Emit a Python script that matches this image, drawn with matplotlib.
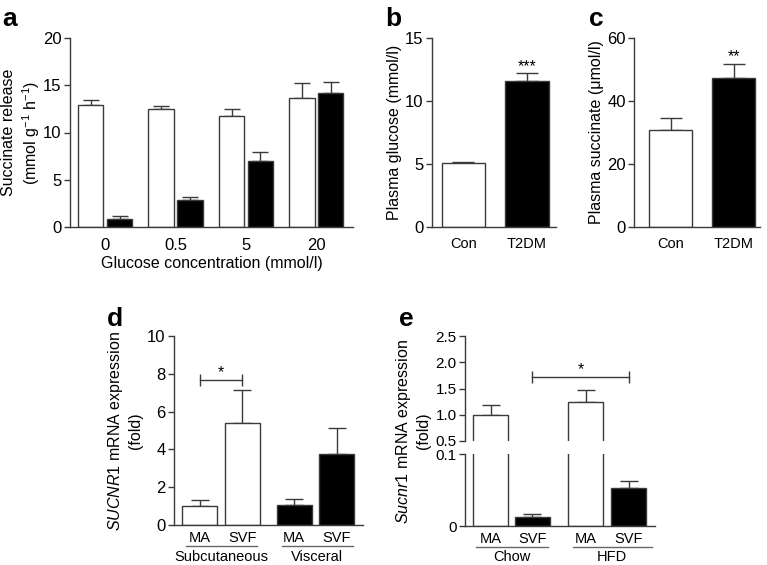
import numpy as np
import matplotlib
matplotlib.use('Agg')
import matplotlib.pyplot as plt
import matplotlib.transforms as mtrans

plt.rcParams['font.family'] = ['Liberation Sans', 'DejaVu Sans']
plt.rcParams['font.size'] = 11.5
plt.rcParams['mathtext.fontset'] = 'custom'
plt.rcParams['mathtext.rm'] = 'Liberation Sans'
plt.rcParams['mathtext.it'] = 'Liberation Sans:italic'

# Panel a: succinate release vs glucose concentration
a_groups = ['0', '0.5', '5', '20']
a_white = [12.9, 12.5, 11.7, 13.6]
a_white_err = [0.5, 0.35, 0.8, 1.6]
a_black = [0.8, 2.85, 7.0, 14.2]
a_black_err = [0.4, 0.3, 0.9, 1.1]

# Panel b / c: plasma glucose and succinate
bc_groups = ['Con', 'T2DM']
b_vals = [5.1, 11.6]
b_err = [0.07, 0.6]
c_vals = [30.8, 47.3]
c_err = [3.8, 4.4]

# Panel d: SUCNR1 expression, human
d_labels = ['MA', 'SVF', 'MA', 'SVF']
d_groups = ['Subcutaneous', 'Visceral']
d_vals = [1.0, 5.4, 1.05, 3.75]
d_err = [0.3, 1.75, 0.3, 1.4]

# Panel e: Sucnr1 expression, mouse
e_labels = ['MA', 'SVF', 'MA', 'SVF']
e_groups = ['Chow', 'HFD']
e_vals = [1.0, 0.013, 1.24, 0.053]
e_err = [0.18, 0.003, 0.23, 0.009]

W, H = 767, 565
EC = '#3a3a3a'
TICK_FS = 12
CAT_FS = 10.5
GRP_FS = 10.5
fig = plt.figure(figsize=(W / 100, H / 100), dpi=100)


def px_axes(l, r, t, b):
    return fig.add_axes([l / W, 1 - b / H, (r - l) / W, (b - t) / H])


def style(ax, xfs=CAT_FS, yfs=TICK_FS):
    for s in ['top', 'right']:
        ax.spines[s].set_visible(False)
    for s in ['left', 'bottom']:
        ax.spines[s].set_color(EC)
        ax.spines[s].set_linewidth(1.0)
    ax.tick_params(axis='y', length=4, width=1, color=EC, pad=2, labelsize=yfs)
    ax.tick_params(axis='x', length=0, labelsize=xfs)


def bars(ax, x, vals, err, colors, width, cap):
    ax.bar(x, vals, width, color=colors, edgecolor=EC, linewidth=1.0, zorder=2)
    ax.errorbar(x, vals, yerr=[np.zeros(len(vals)), err], fmt='none',
                ecolor=EC, elinewidth=1.0, capsize=cap, capthick=1.0, zorder=1)


def star(ax, x, y, s):
    ax.annotate(s, xy=(x, y), xytext=(0, -6.5), textcoords='offset points',
                ha='center', va='baseline', fontsize=11.5)


def bracket(ax, x1, x2, y):
    ax.plot([x1, x2], [y, y], color=EC, lw=1.0, marker='|', markersize=8,
            markeredgewidth=1.0, clip_on=False)


def group_lines(ax, spans, names, ly, ty):
    tr = mtrans.blended_transform_factory(ax.transData, ax.transAxes)
    for (x1, x2), n in zip(spans, names):
        ax.plot([x1, x2], [ly, ly], color='#666666', lw=1.0, transform=tr, clip_on=False)
        ax.text((x1 + x2) / 2, ty, n, transform=tr, ha='center', va='center', fontsize=GRP_FS)


# ---- a ----
ax = px_axes(70, 353, 38, 227)
style(ax, xfs=TICK_FS)
xa = np.arange(len(a_groups))
bars(ax, xa - 0.205, a_white, a_white_err, 'white', 0.36, 6)
bars(ax, xa + 0.205, a_black, a_black_err, 'black', 0.36, 6)
ax.set_xlim(-0.5, 3.52)
ax.set_ylim(0, 20)
ax.set_yticks([0, 5, 10, 15, 20])
ax.set_xticks(xa)
ax.set_xticklabels(a_groups)
ax.tick_params(axis='x', pad=8)
ax.set_xlabel('Glucose concentration (mmol/l)', labelpad=2)
ax.set_ylabel('Succinate release\n(mmol g$^{-1}$ h$^{-1}$)', linespacing=1.25)
ax.yaxis.set_label_coords(-0.1, 0.5)

# ---- b ----
ax = px_axes(432, 556, 38, 227)
style(ax)
xb = np.arange(2)
bars(ax, xb, b_vals, b_err, ['white', 'black'], 0.68, 8)
ax.set_xlim(-0.496, 1.457)
ax.set_ylim(0, 15)
ax.set_yticks([0, 5, 10, 15])
ax.set_xticks(xb)
ax.set_xticklabels(bc_groups)
ax.tick_params(axis='x', pad=7)
ax.set_ylabel('Plasma glucose (mmol/l)')
ax.yaxis.set_label_coords(-0.245, 0.5)
star(ax, 1, 13.1, '***')

# ---- c ----
ax = px_axes(634, 760, 38, 227)
style(ax)
bars(ax, xb, c_vals, c_err, ['white', 'black'], 0.68, 8)
ax.set_xlim(-0.58, 1.42)
ax.set_ylim(0, 60)
ax.set_yticks([0, 20, 40, 60])
ax.set_xticks(xb)
ax.set_xticklabels(bc_groups)
ax.tick_params(axis='x', pad=7)
ax.set_ylabel('Plasma succinate (μmol/l)')
ax.yaxis.set_label_coords(-0.235, 0.5)
star(ax, 1, 55.6, '**')

# ---- d ----
ax = px_axes(174, 363, 336, 525)
style(ax)
xd = np.array([0, 1, 2.22, 3.22])
bars(ax, xd, d_vals, d_err, ['white', 'white', 'black', 'black'], 0.82, 6.5)
ax.set_xlim(-0.61, 3.84)
ax.set_ylim(0, 10)
ax.set_yticks([0, 2, 4, 6, 8, 10])
ax.set_xticks(xd)
ax.set_xticklabels(d_labels)
ax.tick_params(axis='x', pad=4)
ax.set_ylabel('$\\it{SUCNR1}$ mRNA expression\n(fold)', linespacing=1.25)
ax.yaxis.set_label_coords(-0.165, 0.5)
bracket(ax, xd[0], xd[1], 7.67)
star(ax, 0.5 * (xd[0] + xd[1]), 8.3, '*')
group_lines(ax, [(-0.33, 1.35), (1.93, 3.6)], d_groups, -0.111, -0.17)

# ---- e (broken axis) ----
axu = px_axes(465, 655, 336, 441)
axl = px_axes(465, 655, 454, 526)
xe = np.array([0, 0.98, 2.24, 3.25])
ecols = ['white', 'black', 'white', 'black']
for a_ in (axu, axl):
    style(a_, yfs=11)
    bars(a_, xe, e_vals, e_err, ecols, 0.82, 6.5)
    a_.set_xlim(-0.6, 3.87)
axu.spines['bottom'].set_visible(False)
axu.set_ylim(0.5, 2.5)
axu.set_yticks([0.5, 1.0, 1.5, 2.0, 2.5])
axu.set_yticklabels(['0.5', '1.0', '1.5', '2.0', '2.5'])
axu.set_xticks([])
axl.set_ylim(0, 0.1)
axl.set_yticks([0, 0.1])
axl.set_yticklabels(['0', '0.1'])
axl.set_xticks(xe)
axl.set_xticklabels(e_labels)
axl.tick_params(axis='x', pad=4)
bracket(axu, xe[1], xe[3], 1.72)
star(axu, 0.5 * (xe[1] + xe[3]), 1.95, '*')
group_lines(axl, [(-0.33, 1.35), (1.93, 3.8)], e_groups, -0.29, -0.43)
fig.text(431 / W, 1 - 431 / H, '$\\it{Sucnr1}$ mRNA expression\n(fold)',
         rotation=90, ha='right', va='center', linespacing=1.25, multialignment='center')

# panel letters
for s, x, y in [('a', 2, 26), ('b', 385, 26), ('c', 589, 26), ('d', 107, 326), ('e', 399, 326)]:
    fig.text(x / W, 1 - y / H, s, fontsize=19, fontweight='bold', ha='left', va='baseline')

fig.savefig('out.png', dpi=100)
